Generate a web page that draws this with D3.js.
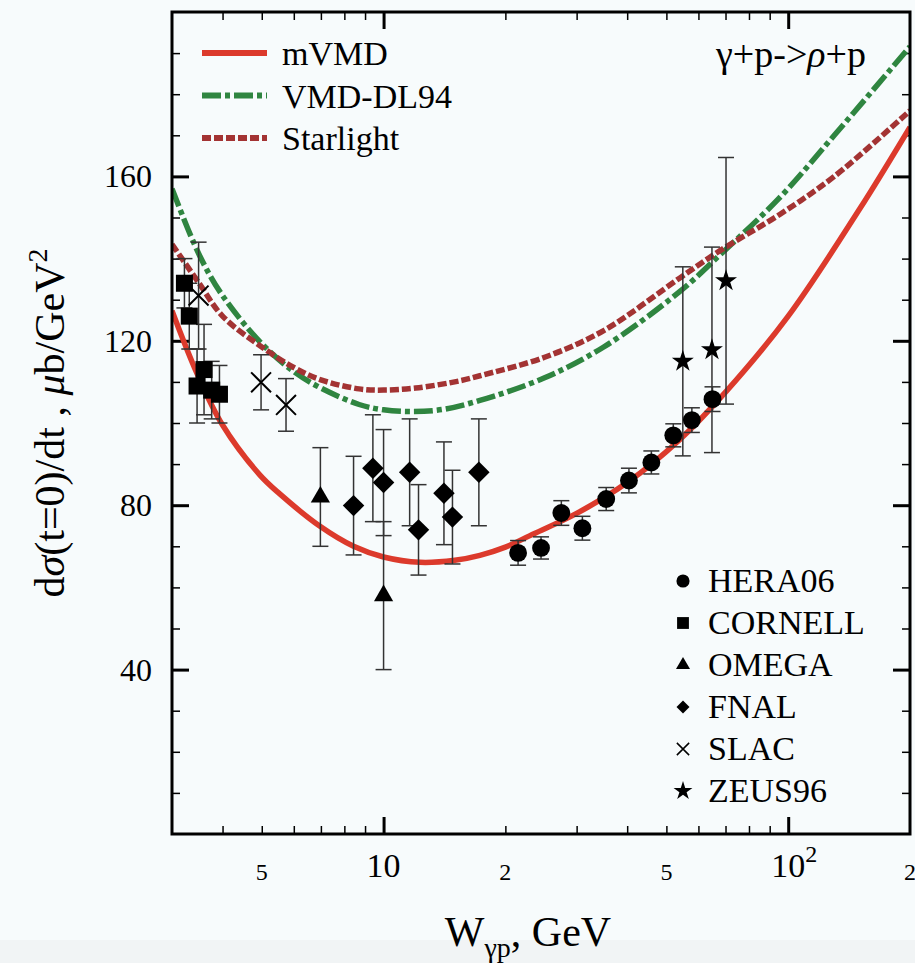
<!DOCTYPE html>
<html>
<head>
<meta charset="utf-8">
<script src="https://cdn.jsdelivr.net/npm/d3@7"></script>
<style>
  body { margin: 0; background: #f7fbfc; }
  svg { display: block; font-family: "Liberation Serif", "Times New Roman", serif; }
</style>
</head>
<body>
<svg id="chart" width="915" height="963"></svg>
<script>
// model curves (W in GeV, dsigma/dt at t=0 in mub/GeV^2)
const mvmdW = [3, 3.46, 4, 4.93, 5.53, 6.98, 8.43, 10, 12.3, 15, 17.3, 20, 23, 30, 40, 54, 70, 100, 150, 200];
const mvmdY = [127.3, 112, 99.5, 87.5, 82.8, 74.8, 70, 67.4, 66.1, 66.6, 67.8, 69.8, 72.6, 78, 85.5, 96, 107.5, 126, 152, 172];

const dl94W = [3, 3.5, 4, 5, 6, 7, 8.7, 10, 11.8, 14, 17.3, 25, 35, 54, 68, 95, 130, 200];
const dl94Y = [157, 141, 131, 119.3, 112.5, 108.5, 104.5, 103.2, 102.8, 103.3, 105.5, 111, 118.5, 132, 141, 154.7, 170, 191.6];

const starW = [3, 3.5, 4, 5, 6, 7, 8.7, 10, 12, 15.5, 17.3, 25, 35, 54, 68, 95.5, 130, 200];
const starY = [143.5, 134, 126, 118.5, 113.5, 110.5, 108.3, 108, 108.5, 110.3, 111.5, 116, 122.5, 135.3, 142, 150.8, 160, 176];

// data sets
const heraW = [21.5, 24.5, 27.5, 31.0, 35.5, 40.4, 45.9, 52.0, 57.8, 65.0];
const heraY = [68.4, 69.6, 78.1, 74.4, 81.5, 86.0, 90.4, 97.0, 100.7, 105.8];
const heraE = [3, 2.7, 3, 2.9, 2.8, 3, 2.8, 2.8, 3, 3];

const cornellW = [3.22, 3.31, 3.60, 3.46, 3.76, 3.93];
const cornellY = [134, 126, 113, 109, 108, 107];
const cornellE = [6, 8, 11, 9, 7, 7];

const omegaW = [6.98, 10.0];
const omegaY = [82, 58];
const omegaE = [12, 18];

const fnalW = [8.43, 9.41, 10.0, 11.6, 12.2, 14.1, 14.8, 17.2];
const fnalY = [79.9, 89, 85.5, 88, 74, 82.9, 77.1, 88];
const fnalE = [12, 13, 12.9, 13, 11, 12.5, 11.4, 13];

const slacW = [3.49, 4.98, 5.74];
const slacY = [131, 109.9, 104.4];
const slacE = [13, 6.7, 6.4];

const zeusW = [54.9, 64.8, 70.2];
const zeusY = [115, 117.8, 134.6];
const zeusE = [23, 25, 30];

// axes ticks
const xMajor = [10, 100];
const xMinor = [4, 5, 6, 7, 8, 9, 20, 30, 40, 50, 60, 70, 80, 90];
const xLabels = [[5, "5"], [10, "10"], [20, "2"], [50, "5"], [100, "10"], [200, "2"]];
const yMajor = [40, 80, 120, 160];
const yMinor = [10, 20, 30, 50, 60, 70, 90, 100, 110, 130, 140, 150, 170, 180, 190];

const modelNames = ["mVMD", "VMD-DL94", "Starlight"];
const setNames = ["HERA06", "CORNELL", "OMEGA", "FNAL", "SLAC", "ZEUS96"];

const svg = d3.select("#chart");
const L = 172, R = 910, T = 12, B = 834;

const x = d3.scaleLog().domain([3, 200]).range([L, R]);
const y = d3.scaleLinear().domain([0, 200]).range([B, T]);

svg.append("defs").append("clipPath").attr("id", "plot")
  .append("rect").attr("x", L).attr("y", T).attr("width", R - L).attr("height", B - T);

// faint band at bottom like the scan
svg.append("rect").attr("x", 0).attr("y", 940).attr("width", 915).attr("height", 23).attr("fill", "#f1f4f5");

// ticks
function ticks(axis, vals, size, width, tr) {
  const g = svg.append("g").attr("transform", tr)
    .call(axis.tickValues(vals).tickSize(-size).tickFormat(""));
  g.select(".domain").remove();
  g.selectAll("line").attr("stroke", "#000").attr("stroke-width", width);
}
ticks(d3.axisBottom(x), xMajor, 17, 3, `translate(0,${B})`);
ticks(d3.axisBottom(x), xMinor, 8, 1.5, `translate(0,${B})`);
ticks(d3.axisTop(x), xMajor, 17, 3, `translate(0,${T})`);
ticks(d3.axisTop(x), xMinor, 8, 1.5, `translate(0,${T})`);
ticks(d3.axisLeft(y), yMajor, 17, 3, `translate(${L},0)`);
ticks(d3.axisLeft(y), yMinor, 8, 1.5, `translate(${L},0)`);
ticks(d3.axisRight(y), yMajor, 17, 3, `translate(${R},0)`);
ticks(d3.axisRight(y), yMinor, 8, 1.5, `translate(${R},0)`);

// tick labels
svg.append("g").selectAll("text").data(yMajor).join("text")
  .attr("x", L - 20).attr("y", d => y(d) + 11)
  .attr("text-anchor", "end").attr("font-size", 32).text(d => d);

const xl = svg.append("g").selectAll("text").data(xLabels).join("text")
  .attr("x", d => x(d[0])).attr("text-anchor", "middle")
  .attr("y", d => d[1] === "10" ? 877 : 880)
  .attr("font-size", d => d[1] === "10" ? 34 : 24)
  .text(d => d[1]);
xl.filter(d => d[0] === 100).attr("text-anchor", "start").attr("x", d => x(d[0]) - 17)
  .append("tspan").attr("dy", -15).attr("font-size", 24).text("2");

// axis titles
const yt = svg.append("text").attr("transform", "translate(64,423) rotate(-90)")
  .attr("text-anchor", "middle").attr("font-size", 42);
yt.append("tspan").text("d");
yt.append("tspan").attr("font-style", "italic").text("σ");
yt.append("tspan").text("(t=0)/dt , ");
yt.append("tspan").attr("font-style", "italic").text("μ");
yt.append("tspan").text("b/GeV");
yt.append("tspan").attr("dy", -17).attr("font-size", 28).text("2");

const xt = svg.append("text").attr("x", 528).attr("y", 946)
  .attr("text-anchor", "middle").attr("font-size", 42);
xt.append("tspan").text("W");
xt.append("tspan").attr("dy", 11).attr("font-size", 28).text("γp");
xt.append("tspan").attr("dy", -11).text(", GeV");

// model curves
const line = d3.line().x(d => x(d[0])).y(d => y(d[1])).curve(d3.curveCatmullRom);
const models = [
  { W: mvmdW, Y: mvmdY, color: "#dc3a2c", dash: null },
  { W: dl94W, Y: dl94Y, color: "#2f8540", dash: "19,4,5,4" },
  { W: starW, Y: starY, color: "#a33333", dash: "9,3" }
];
const curves = svg.append("g").attr("clip-path", "url(#plot)");
models.forEach(m => {
  curves.append("path").datum(d3.zip(m.W, m.Y))
    .attr("d", line).attr("fill", "none").attr("stroke", m.color)
    .attr("stroke-width", 5.5).attr("stroke-dasharray", m.dash);
});

// data sets
const sets = [
  { W: heraW, Y: heraY, E: heraE, sym: d3.symbolCircle, size: 250, leg: 135 },
  { W: cornellW, Y: cornellY, E: cornellE, sym: d3.symbolSquare, size: 290, leg: 140 },
  { W: omegaW, Y: omegaY, E: omegaE, sym: d3.symbolTriangle, size: 160, leg: 85 },
  { W: fnalW, Y: fnalY, E: fnalE, sym: d3.symbolSquare, size: 230, leg: 85, rot: 45 },
  { W: slacW, Y: slacY, E: slacE, sym: d3.symbolTimes, size: 260, leg: 100, stroke: true },
  { W: zeusW, Y: zeusY, E: zeusE, sym: d3.symbolStar, size: 150, leg: 110 }
];

const bars = svg.append("g").attr("stroke", "#333").attr("stroke-width", 1.5);
sets.forEach(s => {
  const pts = d3.zip(s.W, s.Y, s.E);
  bars.selectAll(null).data(pts).join("line")
    .attr("x1", d => x(d[0])).attr("x2", d => x(d[0]))
    .attr("y1", d => y(d[1] + d[2])).attr("y2", d => y(d[1] - d[2]));
  [1, -1].forEach(sg => {
    bars.selectAll(null).data(pts).join("line")
      .attr("x1", d => x(d[0]) - 8).attr("x2", d => x(d[0]) + 8)
      .attr("y1", d => y(d[1] + sg * d[2])).attr("y2", d => y(d[1] + sg * d[2]));
  });
});

sets.forEach(s => {
  svg.append("g").selectAll("path").data(d3.zip(s.W, s.Y)).join("path")
    .attr("transform", d => `translate(${x(d[0])},${y(d[1])}) rotate(${s.rot || 0})`)
    .attr("d", d3.symbol(s.sym, s.size))
    .attr("fill", s.stroke ? "none" : "#000")
    .attr("stroke", s.stroke ? "#000" : "none").attr("stroke-width", 2);
});

// legend of models
const lg = svg.append("g").selectAll("g").data(models).join("g")
  .attr("transform", (d, i) => `translate(202,${53 + i * 42.5})`);
lg.append("line").attr("x1", 0).attr("x2", 65)
  .attr("stroke", d => d.color).attr("stroke-width", 6).attr("stroke-dasharray", d => d.dash);
lg.append("text").attr("x", 80).attr("y", 12).attr("font-size", 34).text((d, i) => modelNames[i]);

// process label
const pl = svg.append("text").attr("x", 866).attr("y", 67).attr("text-anchor", "end").attr("font-size", 38);
pl.append("tspan").text("γ+p->");
pl.append("tspan").attr("font-style", "italic").text("ρ");
pl.append("tspan").text("+p");

// legend of data sets
const dl = svg.append("g").selectAll("g").data(sets).join("g")
  .attr("transform", (d, i) => `translate(683,${581 + i * 42})`);
dl.append("path")
  .attr("transform", d => `rotate(${d.rot || 0})`)
  .attr("d", d => d3.symbol(d.sym, d.leg)())
  .attr("fill", d => d.stroke ? "none" : "#000")
  .attr("stroke", d => d.stroke ? "#000" : "none").attr("stroke-width", 1.5);
dl.append("text").attr("x", 25).attr("y", 11).attr("font-size", 34).text((d, i) => setNames[i]);

// frame
svg.append("rect").attr("x", L).attr("y", T).attr("width", R - L).attr("height", B - T)
  .attr("fill", "none").attr("stroke", "#000").attr("stroke-width", 3);
</script>
</body>
</html>
